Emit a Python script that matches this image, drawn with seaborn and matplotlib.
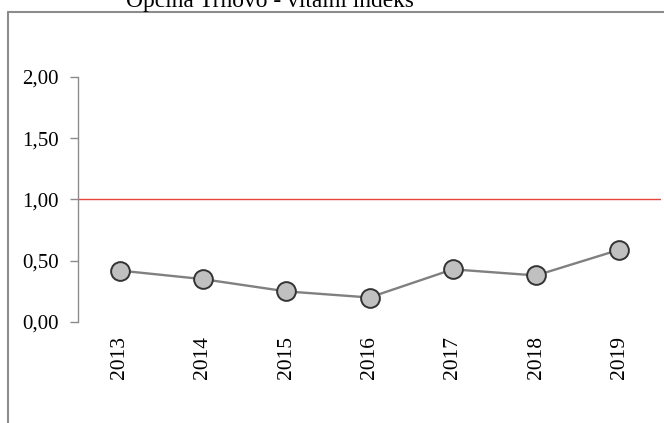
import matplotlib
matplotlib.use("Agg")
import matplotlib.pyplot as plt
import seaborn as sns
import pandas as pd
from matplotlib.lines import Line2D
from matplotlib.ticker import FixedLocator, FuncFormatter

years = ["2013", "2014", "2015", "2016", "2017", "2018", "2019"]
index_values = [0.42, 0.35, 0.25, 0.20, 0.43, 0.38, 0.59]
y_ticks = [0.0, 0.5, 1.0, 1.5, 2.0]
title = "Općina Trnovo - vitalni indeks"

sns.set_theme(style="white")
plt.rcParams["font.family"] = ["Liberation Serif", "DejaVu Serif"]

df = pd.DataFrame({"godina": years, "indeks": index_values})

fig = plt.figure(figsize=(6.64, 4.23), dpi=100)
W, H = 664, 423

# outer chart frame (left and top edges; the rest runs off the canvas)
frame_kw = dict(transform=fig.transFigure, color="#8c8c8c", linewidth=1.5)
fig.add_artist(Line2D([7.5 / W, 7.5 / W], [-0.05, (H - 12.5) / H], **frame_kw))
fig.add_artist(Line2D([7.5 / W, 1.05], [(H - 12.5) / H, (H - 12.5) / H], **frame_kw))

ax = fig.add_axes([78 / W, (H - 322) / H, (661 - 78) / W, (322 - 77) / H])
ax.set_facecolor("none")

# reference line at index 1
ax.axhline(1.0, color="#e8443a", linewidth=1.0, zorder=1)

sns.lineplot(data=df, x="godina", y="indeks", ax=ax, sort=False,
             color="#808080", linewidth=1.7, marker="o", markersize=13.5,
             markerfacecolor="#c0c0c0", markeredgecolor="#333333",
             markeredgewidth=1.4, zorder=3)

ax.set_xlim(-0.5, len(years) - 0.5)
ax.set_ylim(0, 2.0)
ax.yaxis.set_major_locator(FixedLocator(y_ticks))
ax.yaxis.set_major_formatter(FuncFormatter(lambda v, _: f"{v:.2f}".replace(".", ",")))

for side in ["top", "right", "bottom"]:
    ax.spines[side].set_visible(False)
ax.spines["left"].set_color("#8c8c8c")
ax.spines["left"].set_linewidth(1.0)

ax.tick_params(axis="y", direction="out", length=6, width=1.0, color="#8c8c8c",
               labelsize=15, labelcolor="black", pad=8, left=True)
ax.tick_params(axis="x", length=0, labelsize=15.5, labelcolor="black",
               rotation=90, pad=10)
ax.set_xlabel("")
ax.set_ylabel("")
ax.grid(False)

fig.text(270 / W, (H - 7) / H, title, ha="center", va="baseline",
         fontsize=16.8, color="black")

fig.savefig("out.png", dpi=100)
